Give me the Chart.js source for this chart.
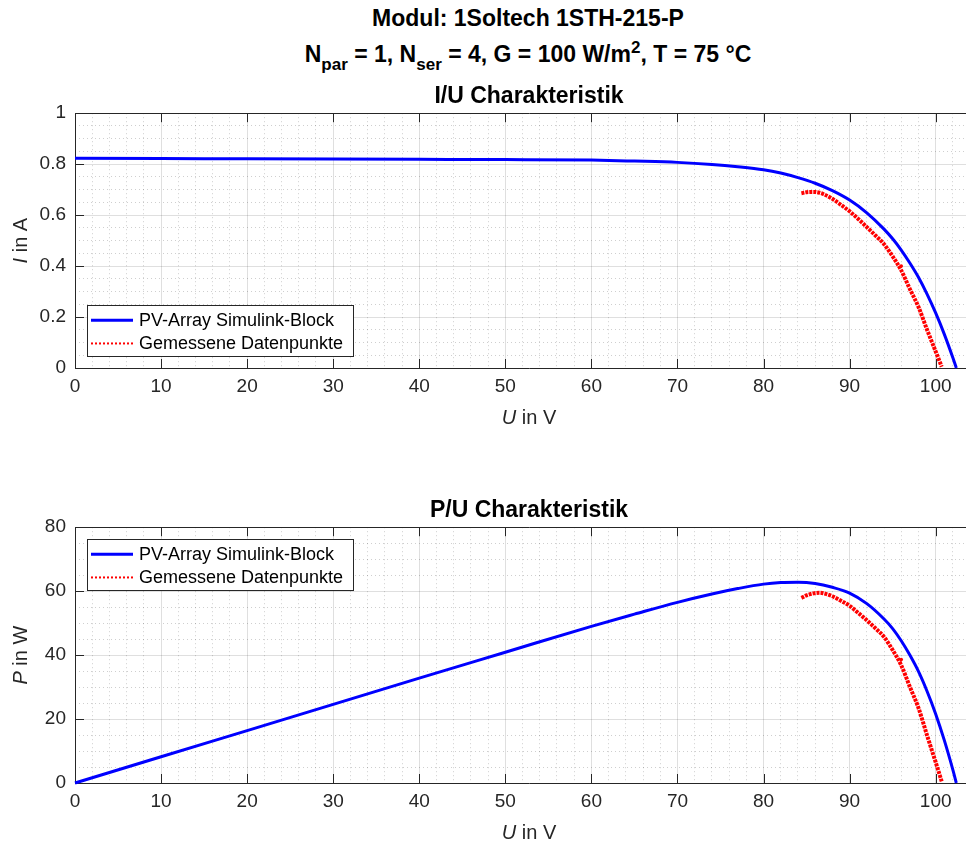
<!DOCTYPE html>
<html>
<head>
<meta charset="utf-8">
<script src="https://cdn.jsdelivr.net/npm/chart.js@4.4.1/dist/chart.umd.min.js"></script>
<style>
  html, body { margin: 0; padding: 0; background: #fff; overflow: hidden; }
  body { position: relative; width: 966px; height: 845px; font-family: "Liberation Sans", Arial, Helvetica, sans-serif; }
  .sup { position: absolute; left: 0; width: 1056px; text-align: center; font-weight: bold; font-size: 23px; line-height: 26px; color: #000; white-space: nowrap; }
  .sup .lo { position: relative; top: 8px; font-size: 17px; }
  .sup .hi { position: relative; top: -9px; font-size: 17px; }
  canvas { position: absolute; left: 0; }
</style>
</head>
<body>
<div class="sup" style="top:5px">Modul: 1Soltech 1STH-215-P</div>
<div class="sup" style="top:41px">N<span class="lo">par</span> = 1, N<span class="lo">ser</span> = 4, G = 100 W/m<span class="hi">2</span>, T = 75 °C</div>
<canvas id="iu" width="990" height="348" style="top:82px"></canvas>
<canvas id="pu" width="990" height="349" style="top:496px"></canvas>
<script>
// simulated curve (PV-Array Simulink-Block)
const uSim = [0, 10, 20, 30, 40, 50, 60, 65, 70, 74, 77, 80, 82, 84, 86, 88, 90, 92, 94, 95, 96, 97, 98, 99, 100, 101, 102, 102.4];
const iSim = [0.823, 0.822, 0.821, 0.820, 0.819, 0.818, 0.816, 0.812, 0.807, 0.799, 0.790, 0.778, 0.765, 0.747, 0.725, 0.696, 0.659, 0.609, 0.545, 0.507, 0.463, 0.412, 0.356, 0.29, 0.216, 0.133, 0.04, 0];
const pSim = [0, 8.2, 16.4, 24.6, 32.8, 40.9, 49.0, 52.8, 56.5, 59.1, 60.8, 62.2, 62.7, 62.8, 62.4, 61.2, 59.4, 56.1, 51.3, 48.3, 44.5, 40.0, 34.9, 28.7, 21.6, 13.4, 4.1, 0];

// measured points
const uMeas = [84.4, 85, 85.8, 86.5, 87, 88, 89, 90, 91, 92, 93, 94, 95, 96, 97, 98, 99, 100, 100.7];
const iMeas = [0.686, 0.69, 0.691, 0.688, 0.682, 0.664, 0.64, 0.615, 0.585, 0.553, 0.52, 0.486, 0.438, 0.383, 0.31, 0.24, 0.15, 0.065, 0.005];
const pMeas = [57.9, 58.7, 59.3, 59.5, 59.3, 58.4, 57.0, 55.4, 53.2, 50.9, 48.4, 45.7, 41.6, 36.8, 30.1, 23.5, 14.9, 6.5, 0.5];
// single stray measurement
const uStray = [96.0];
const iStray = [0.40];
const pStray = [38.6];

const INK = '#262626';
const FONT = '"Liberation Sans", Arial, Helvetica, sans-serif';
const X_MAX = 105.5;

function pts(xs, ys) {
  return xs.map((x, k) => ({ x: x, y: ys[k] }));
}

function isMajor(v, step) {
  return Math.abs(v / step - Math.round(v / step)) < 1e-6;
}

function drawMixed(ctx, parts, x, y, size) {
  let w = 0;
  parts.forEach(([txt, it]) => {
    ctx.font = (it ? 'italic ' : '') + size + 'px ' + FONT;
    w += ctx.measureText(txt).width;
  });
  let cx = x - w / 2;
  parts.forEach(([txt, it]) => {
    ctx.font = (it ? 'italic ' : '') + size + 'px ' + FONT;
    ctx.fillText(txt, cx, y);
    cx += ctx.measureText(txt).width;
  });
}

// box, inward tick marks, axis titles and the legend, drawn the matlab way
const frame = {
  id: 'frame',
  beforeDatasetsDraw(chart, args, o) {
    const { ctx, chartArea: a, scales: { x, y } } = chart;
    ctx.save();
    ctx.strokeStyle = INK;
    ctx.lineWidth = 1;
    ctx.beginPath();
    x.ticks.forEach(t => {
      if (!isMajor(t.value, o.xMajor)) return;
      const px = Math.round(x.getPixelForValue(t.value)) + 0.5;
      ctx.moveTo(px, a.bottom); ctx.lineTo(px, a.bottom - 9);
      ctx.moveTo(px, a.top); ctx.lineTo(px, a.top + 9);
    });
    y.ticks.forEach(t => {
      if (!isMajor(t.value, o.yMajor)) return;
      const py = Math.round(y.getPixelForValue(t.value)) + 0.5;
      ctx.moveTo(a.left, py); ctx.lineTo(a.left + 9, py);
      ctx.moveTo(a.right, py); ctx.lineTo(a.right - 9, py);
    });
    ctx.rect(Math.round(a.left) + 0.5, Math.round(a.top) + 0.5,
      Math.round(a.right - a.left), Math.round(a.bottom - a.top));
    ctx.stroke();
    ctx.restore();
  },
  afterDraw(chart, args, o) {
    const { ctx, chartArea: a } = chart;
    ctx.save();
    ctx.fillStyle = INK;
    ctx.textBaseline = 'middle';
    drawMixed(ctx, o.xTitle, (a.left + a.right) / 2, a.bottom + 50, 20);
    ctx.save();
    ctx.translate(21, (a.top + a.bottom) / 2);
    ctx.rotate(-Math.PI / 2);
    drawMixed(ctx, o.yTitle, 0, 0, 20);
    ctx.restore();

    // legend
    const items = chart.data.datasets.filter(d => d.label);
    ctx.font = '18px ' + FONT;
    const tw = Math.max(...items.map(d => ctx.measureText(d.label).width));
    const rowH = 23.3;
    const bx = Math.round(a.left) + 12;
    const bw = Math.round(52 + tw + 10);
    const bh = 51;
    const by = o.legendAt === 'bottom' ? Math.round(a.bottom) - 12 - bh : Math.round(a.top) + 12;
    ctx.fillStyle = '#fff';
    ctx.fillRect(bx, by, bw, bh);
    ctx.strokeStyle = INK;
    ctx.lineWidth = 1;
    ctx.strokeRect(bx + 0.5, by + 0.5, bw, bh);
    items.forEach((d, k) => {
      const cy = by + 3.5 + rowH * k + rowH / 2;
      ctx.beginPath();
      ctx.strokeStyle = d.borderColor;
      ctx.lineWidth = d.legendWidth;
      ctx.setLineDash(d.legendDash);
      ctx.moveTo(bx + 4, cy);
      ctx.lineTo(bx + 46, cy);
      ctx.stroke();
      ctx.setLineDash([]);
      ctx.fillStyle = '#000';
      ctx.fillText(d.label, bx + 52, cy + 1);
    });
    ctx.restore();
  }
};

function makeChart(id, title, ySim, yMeas, yStray, yMax, yStep, yMajor, yTitle, legendAt) {
  const gridColor = c => c.tick && isMajor(c.tick.value, c.scale.id === 'x' ? 10 : yMajor)
    ? 'rgba(38,38,38,0.15)' : 'rgba(38,38,38,0.22)';
  const gridDash = (c, major) => c.tick && !isMajor(c.tick.value, major) ? [1, 3] : [];

  return new Chart(document.getElementById(id), {
    type: 'scatter',
    data: {
      datasets: [
        {
          label: 'PV-Array Simulink-Block',
          data: pts(uSim, ySim),
          showLine: true,
          borderColor: '#0000ff',
          borderWidth: 3,
          pointRadius: 0,
          cubicInterpolationMode: 'monotone',
          legendWidth: 3,
          legendDash: [],
          clip: 3
        },
        {
          label: 'Gemessene Datenpunkte',
          data: pts(uMeas, yMeas),
          showLine: true,
          borderColor: '#ff0000',
          borderWidth: 4,
          borderDash: [3, 1],
          pointRadius: 0,
          cubicInterpolationMode: 'monotone',
          legendWidth: 2,
          legendDash: [2, 2],
          clip: 3
        },
        {
          data: pts(uStray, yStray),
          pointRadius: 1.8,
          pointBackgroundColor: '#ff0000',
          pointBorderWidth: 0
        }
      ]
    },
    options: {
      responsive: false,
      animation: false,
      events: [],
      layout: { padding: { left: 0, right: 7, top: 0, bottom: 0 } },
      scales: {
        x: {
          type: 'linear',
          min: 0,
          max: X_MAX,
          afterFit(s) { s.height = 62; },
          ticks: {
            stepSize: 2,
            autoSkip: false,
            maxRotation: 0,
            padding: 7,
            color: INK,
            font: { family: FONT, size: 19 },
            callback: v => isMajor(v, 10) ? String(Math.round(v)) : ''
          },
          grid: { color: gridColor, lineWidth: 1, drawTicks: false },
          border: { display: false, dash: c => gridDash(c, 10) }
        },
        y: {
          min: 0,
          max: yMax,
          afterFit(s) { s.width = 75; },
          ticks: {
            stepSize: yStep,
            autoSkip: false,
            padding: 9,
            color: INK,
            font: { family: FONT, size: 19 },
            callback: v => isMajor(v, yMajor) ? String(Math.round(v * 10) / 10) : ''
          },
          grid: { color: gridColor, lineWidth: 1, drawTicks: false },
          border: { display: false, dash: c => gridDash(c, yMajor) }
        }
      },
      plugins: {
        legend: { display: false },
        tooltip: { enabled: false },
        title: {
          display: true,
          text: title,
          fullSize: false,
          color: '#000',
          font: { family: FONT, size: 23, weight: 'bold' },
          padding: { top: 1, bottom: 2.6 }
        },
        frame: {
          xMajor: 10,
          yMajor: yMajor,
          xTitle: [['U', true], [' in V', false]],
          yTitle: yTitle,
          legendAt: legendAt
        }
      }
    },
    plugins: [frame]
  });
}

makeChart('iu', 'I/U Charakteristik', iSim, iMeas, iStray, 1, 0.05, 0.2,
  [['I', true], [' in A', false]], 'bottom');
makeChart('pu', 'P/U Charakteristik', pSim, pMeas, pStray, 80, 5, 20,
  [['P', true], [' in W', false]], 'top');
</script>
</body>
</html>
